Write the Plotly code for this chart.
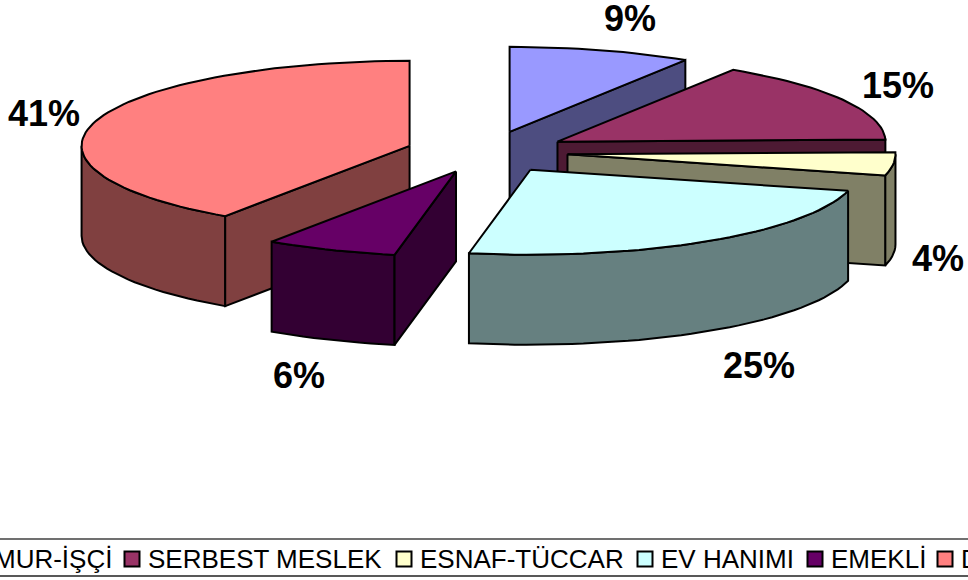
import math
import plotly.graph_objects as go

categories = ["MEMUR-İŞÇİ", "SERBEST MESLEK", "ESNAF-TÜCCAR", "EV HANIMI", "EMEKLİ", "DİĞER"]
shares = [9.0, 15.6, 4.4, 24.0, 6.5, 40.5]
pct_labels = ["9%", "15%", "4%", "25%", "6%", "41%"]
top_colors = ["#9999FF", "#993366", "#FFFFCC", "#CCFFFF", "#660066", "#FF8080"]
wall_colors = ["#4D4D80", "#4D1A33", "#808066", "#668080", "#330033", "#804040"]

label_x = [630, 898, 938, 759, 299, 44]
label_y = [22, 89, 262, 369, 379, 117]
legend_marker_x = [-69, 132, 404, 645, 815, 945]
legend_text_x = [-45, 148, 420, 661, 831, 961]

CX, CY = 487, 152
RX, RY = 328, 85
EX, EY = 81, 21
DEPTH = 90
LEGEND_Y = 559
LEGEND_TEXT_Y = 561


def pt(ax, ay, deg):
    r = math.radians(deg)
    return ax + RX * math.sin(r), ay - RY * math.cos(r)


def arc(ax, ay, a0, a1):
    n = max(2, int(abs(a1 - a0) / 2) + 1)
    return [pt(ax, ay, a0 + (a1 - a0) * i / (n - 1)) for i in range(n)]


fig = go.Figure()


def poly(points, color):
    xs = [p[0] for p in points] + [points[0][0]]
    ys = [p[1] for p in points] + [points[0][1]]
    fig.add_trace(go.Scatter(x=xs, y=ys, mode="lines", fill="toself", fillcolor=color,
                             line=dict(color="black", width=2), hoverinfo="skip", showlegend=False))


bounds = []
c = 0.0
for s in shares:
    bounds.append((c * 3.6, (c + s) * 3.6))
    c += s

for i in [5, 0, 1, 2, 3, 4]:
    a0, a1 = bounds[i]
    mid = math.radians((a0 + a1) / 2)
    ax = CX + EX * math.sin(mid)
    ay = CY - EY * math.cos(mid)
    lo, hi = max(a0, 90), min(a1, 270)
    if hi > lo:
        upper = arc(ax, ay, lo, hi)
        lower = [(x, y + DEPTH) for x, y in reversed(upper)]
        poly(upper + lower, wall_colors[i])
    for ang, visible in ((a1, math.sin(math.radians(a1)) > 0), (a0, math.sin(math.radians(a0)) < 0)):
        if visible:
            p = pt(ax, ay, ang)
            poly([(ax, ay), p, (p[0], p[1] + DEPTH), (ax, ay + DEPTH)], wall_colors[i])
    poly([(ax, ay)] + arc(ax, ay, a0, a1), top_colors[i])

fig.add_trace(go.Scatter(x=label_x, y=label_y, mode="text", text=pct_labels,
                         textposition="middle center", hoverinfo="skip", showlegend=False,
                         textfont=dict(family="Liberation Sans", size=36, color="black", weight="bold")))

fig.add_trace(go.Scatter(x=legend_marker_x, y=[LEGEND_Y] * 6, mode="markers", hoverinfo="skip", showlegend=False,
                         marker=dict(symbol="square", size=15, color=top_colors, line=dict(color="black", width=2))))
fig.add_trace(go.Scatter(x=legend_text_x, y=[LEGEND_TEXT_Y] * 6, mode="text", text=categories,
                         textposition="middle right", hoverinfo="skip", showlegend=False,
                         textfont=dict(family="Liberation Sans", size=26, color="black")))

fig.update_layout(
    width=968, height=580, margin=dict(l=0, r=0, t=0, b=0), autosize=False,
    paper_bgcolor="white", plot_bgcolor="white",
    xaxis=dict(range=[0, 968], visible=False, fixedrange=True),
    yaxis=dict(range=[580, 0], visible=False, fixedrange=True),
    shapes=[
        dict(type="line", xref="x", yref="y", x0=0, x1=968, y0=539, y1=539, line=dict(color="#404040", width=1.5)),
        dict(type="line", xref="x", yref="y", x0=0, x1=968, y0=576, y1=576, line=dict(color="#202020", width=1.5)),
    ],
)
fig.write_html("out.html", config={"displayModeBar": False},
               post_script="document.body.style.margin='0';document.documentElement.style.overflow='hidden';")
